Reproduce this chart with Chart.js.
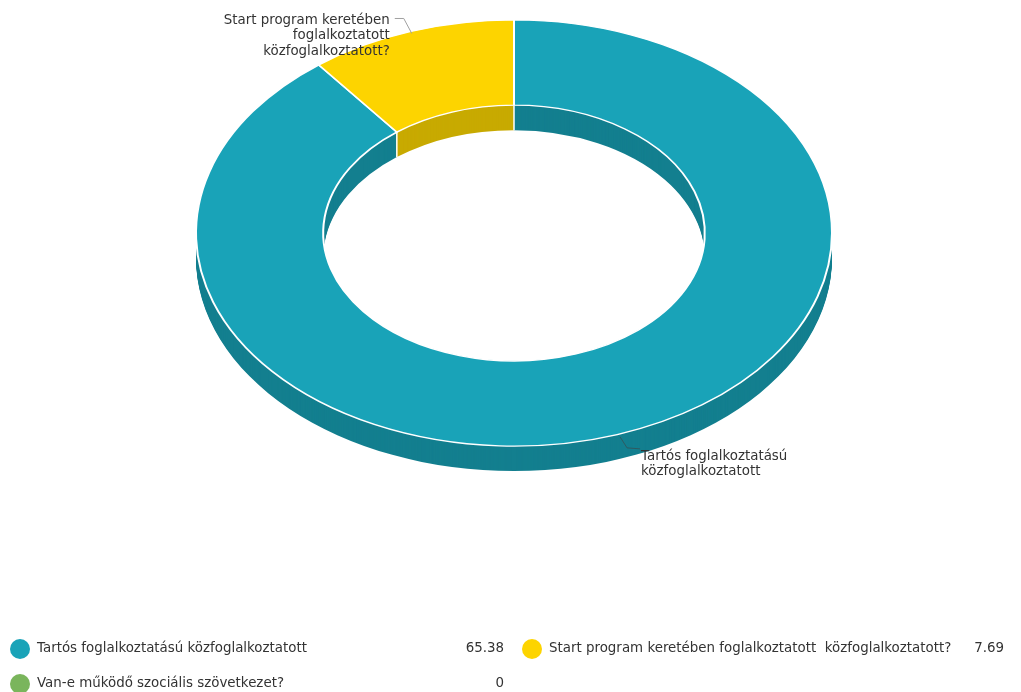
<!DOCTYPE html>
<html>
<head>
<meta charset="utf-8">
<script src="https://cdn.jsdelivr.net/npm/chart.js@4/dist/chart.umd.min.js"></script>
<style>
  html, body { margin: 0; padding: 0; background: #fff; }
  #wrap { position: relative; width: 1021px; height: 692px; }
</style>
</head>
<body>
<div id="wrap"><canvas id="myChart" width="1021" height="692"></canvas></div>
<script>
// data
var categories = [
    "Tartós foglalkoztatású közfoglalkoztatott",
    "Start program keretében foglalkoztatott  közfoglalkoztatott?",
    "Van-e működő szociális szövetkezet?"
];
var values = [65.38, 7.69, 0];
var valueLabels = ["65.38", "7.69", "0"];
var calloutLines = [
    ["Tartós foglalkoztatású", "közfoglalkoztatott"],
    ["Start program keretében", "foglalkoztatott", "közfoglalkoztatott?"],
    []
];
var topColours = ["#19a3b8", "#fdd400", "#7ab55c"];
var sideColours = ["#137f8f", "#c8aa00", "#5e9146"];

var squash = 0.67;   // vertical squeeze of the 3d look
var depth = 25;      // height of the side wall, px
var font = "13.4px 'DejaVu Sans', Verdana, sans-serif";

function ringPath(ctx, a, x, y) {
    ctx.beginPath();
    ctx.arc(x, y, a.outerRadius, a.startAngle, a.endAngle);
    ctx.arc(x, y, a.innerRadius, a.endAngle, a.startAngle, true);
    ctx.closePath();
}

var pie3d = {
    id: "pie3d",
    beforeDatasetsDraw: function(chart) {
        var ctx = chart.ctx;
        var arcs = chart.getDatasetMeta(0).data;
        var cx = arcs[0].x, cy = arcs[0].y;
        // side wall: stacked copies in darker colour
        for (var d = depth; d >= 1; d--) {
            ctx.save();
            ctx.translate(cx, cy + d);
            ctx.scale(1, squash);
            ctx.translate(-cx, -cy);
            for (var i = 0; i < arcs.length; i++) {
                if (arcs[i].circumference <= 0) continue;
                ringPath(ctx, arcs[i], cx, cy);
                ctx.fillStyle = sideColours[i];
                ctx.fill();
            }
            ctx.restore();
        }
        // white seams on the wall
        ctx.save();
        ctx.strokeStyle = "#fff";
        ctx.lineWidth = 1.5;
        for (var i = 0; i < arcs.length; i++) {
            if (arcs[i].circumference <= 0) continue;
            var ang = arcs[i].startAngle;
            var r = Math.sin(ang) < 0 ? arcs[i].innerRadius : arcs[i].outerRadius;
            var px = cx + Math.cos(ang) * r;
            var py = cy + Math.sin(ang) * r * squash;
            ctx.beginPath();
            ctx.moveTo(px, py);
            ctx.lineTo(px, py + depth);
            ctx.stroke();
        }
        ctx.restore();
        // squash the top face drawn by chart.js
        ctx.save();
        ctx.translate(cx, cy);
        ctx.scale(1, squash);
        ctx.translate(-cx, -cy);
    },
    afterDatasetsDraw: function(chart) {
        chart.ctx.restore();
    },
    afterDraw: function(chart) {
        var ctx = chart.ctx;
        var arcs = chart.getDatasetMeta(0).data;
        var cx = arcs[0].x, cy = arcs[0].y;
        ctx.save();
        ctx.font = font;
        ctx.fillStyle = "#333";
        ctx.textBaseline = "middle";

        // callout for the yellow slice
        var a = arcs[1];
        var mid = (a.startAngle + a.endAngle) / 2;
        var ex = cx + Math.cos(mid) * a.outerRadius;
        var ey = cy + Math.sin(mid) * a.outerRadius * squash;
        ctx.strokeStyle = "#a0a0a0";
        ctx.lineWidth = 1;
        ctx.beginPath();
        ctx.moveTo(ex + 1, ey + 2);
        ctx.lineTo(ex - 7, ey - 13);
        ctx.lineTo(ex - 16, ey - 13);
        ctx.stroke();
        ctx.textAlign = "right";
        for (var k = 0; k < calloutLines[1].length; k++) {
            ctx.fillText(calloutLines[1][k], ex - 21, ey - 11 + k * 15.5);
        }

        // callout for the teal slice (lower side)
        a = arcs[0];
        var ang = Math.PI * 0.5 - 0.34;
        var tx = cx + Math.cos(ang) * a.outerRadius;
        var ty = cy + Math.sin(ang) * a.outerRadius * squash + 3;
        ctx.strokeStyle = "#2f5a60";
        ctx.beginPath();
        ctx.moveTo(tx, ty);
        ctx.lineTo(tx + 7, ty + 11);
        ctx.lineTo(tx + 20, ty + 12);
        ctx.stroke();
        ctx.textAlign = "left";
        for (var k = 0; k < calloutLines[0].length; k++) {
            ctx.fillText(calloutLines[0][k], tx + 21, ty + 20 + k * 15);
        }

        // legend with values
        var cols = [{ dot: 20, text: 37, val: 504 }, { dot: 532, text: 549, val: 1004 }];
        for (var i = 0; i < categories.length; i++) {
            var c = cols[i % 2];
            var y = 649 + Math.floor(i / 2) * 35;
            ctx.beginPath();
            ctx.arc(c.dot, y, 10, 0, Math.PI * 2);
            ctx.fillStyle = topColours[i];
            ctx.fill();
            ctx.fillStyle = "#333";
            ctx.textAlign = "left";
            ctx.fillText(categories[i], c.text, y);
            ctx.textAlign = "right";
            ctx.fillText(valueLabels[i], c.val, y);
        }
        ctx.restore();
    }
};

var ctx = document.getElementById("myChart");
var myChart = new Chart(ctx, {
    type: "doughnut",
    data: {
        labels: categories,
        datasets: [{
            data: values,
            backgroundColor: topColours,
            borderColor: "#ffffff",
            borderWidth: 2,
            hoverOffset: 0,
            clip: false
        }]
    },
    options: {
        responsive: false,
        animation: false,
        radius: 318,
        cutout: "60%",
        layout: { padding: { left: 7, right: 0, top: 0, bottom: 226 } },
        plugins: {
            legend: { display: false },
            tooltip: { enabled: false }
        }
    },
    plugins: [pie3d]
});
</script>
</body>
</html>
